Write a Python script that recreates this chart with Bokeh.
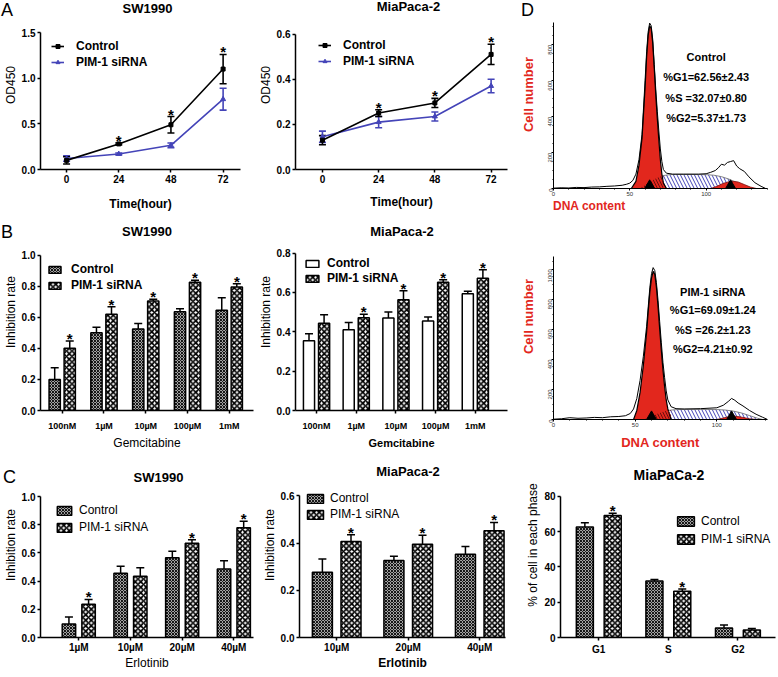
import math
from bokeh.plotting import figure
from bokeh.layouts import row, column
from bokeh.models import (ColumnDataSource, Whisker, TeeHead, Label, LabelSet, FixedTicker,
                          Range1d, Legend, LegendItem, PrintfTickFormatter, Div)
from bokeh.embed import file_html
from bokeh.resources import INLINE
from bokeh.core.properties import value

FONT = "Liberation Sans"
BLUE = "#4444b8"
RED = "#e2271d"

# ---------------- data ----------------
time_h = [0, 24, 48, 72]
a1_ctrl = [0.10, 0.28, 0.49, 1.10]
a1_ctrl_err = [0.04, 0.01, 0.09, 0.16]
a1_sirna = [0.12, 0.17, 0.265, 0.77]
a1_sirna_err = [0.03, 0.01, 0.025, 0.12]
a1_star = [0, 1, 1, 1]

a2_ctrl = [0.13, 0.25, 0.295, 0.51]
a2_ctrl_err = [0.02, 0.015, 0.02, 0.045]
a2_sirna = [0.145, 0.21, 0.235, 0.37]
a2_sirna_err = [0.025, 0.025, 0.02, 0.03]
a2_star = [0, 1, 1, 1]

gem_doses = ["100nM", "1µM", "10µM", "100µM", "1mM"]
b1_ctrl = [0.20, 0.50, 0.525, 0.635, 0.645]
b1_ctrl_err = [0.075, 0.035, 0.035, 0.02, 0.08]
b1_sirna = [0.40, 0.62, 0.705, 0.825, 0.795]
b1_sirna_err = [0.047, 0.048, 0.01, 0.013, 0.02]
b1_star = [1, 1, 1, 1, 1]

b2_ctrl = [0.355, 0.41, 0.47, 0.455, 0.593]
b2_ctrl_err = [0.035, 0.037, 0.03, 0.02, 0.013]
b2_sirna = [0.444, 0.472, 0.563, 0.652, 0.672]
b2_sirna_err = [0.043, 0.017, 0.045, 0.013, 0.043]
b2_star = [0, 1, 1, 1, 1]

erl_doses_sw = ["1µM", "10µM", "20µM", "40µM"]
c1_ctrl = [0.095, 0.455, 0.565, 0.485]
c1_ctrl_err = [0.05, 0.05, 0.047, 0.06]
c1_sirna = [0.235, 0.435, 0.668, 0.779]
c1_sirna_err = [0.035, 0.06, 0.026, 0.045]
c1_star = [1, 0, 1, 1]

erl_doses_mia = ["10µM", "20µM", "40µM"]
c2_ctrl = [0.276, 0.326, 0.352]
c2_ctrl_err = [0.056, 0.018, 0.033]
c2_sirna = [0.406, 0.395, 0.452]
c2_sirna_err = [0.029, 0.038, 0.035]
c2_star = [1, 1, 1]

phases = ["G1", "S", "G2"]
c3_ctrl = [62.56, 32.07, 5.37]
c3_ctrl_err = [2.43, 0.80, 1.73]
c3_sirna = [69.09, 26.2, 4.21]
c3_sirna_err = [1.24, 1.23, 0.92]
c3_star = [1, 1, 0]

# flow cytometry histograms
d1_x = [0, 5, 10, 15, 20, 25, 30, 35, 40, 45, 48, 50, 52, 54, 56, 58, 60, 61, 62, 63,
        64, 65, 66, 67, 68, 69, 70, 71, 72, 74, 78, 85, 95, 100, 103, 106, 108, 110,
        112, 114, 116, 118, 120, 122, 125, 128, 132, 136, 139]
d1_y = [2, 4, 3, 6, 5, 8, 9, 12, 14, 18, 24, 30, 45, 80, 160, 300, 600, 760, 870, 920,
        905, 830, 690, 550, 430, 320, 220, 150, 105, 85, 80, 80, 80, 82, 90, 100, 115, 135,
        130, 145, 150, 155, 125, 110, 95, 65, 32, 12, 0]
d1_g1_x = [51, 54, 56, 58, 60, 61, 62, 63, 64, 65, 66, 67, 68, 69, 70, 71, 72, 74]
d1_g1_y = [0, 40, 130, 280, 560, 730, 850, 905, 890, 810, 670, 520, 390, 270, 160, 80, 30, 0]
d1_s_x = [56, 60, 64, 68, 72, 76, 80, 90, 100, 105, 110, 115, 120, 125, 129]
d1_s_y = [0, 20, 42, 60, 72, 77, 78, 78, 77, 74, 66, 52, 32, 12, 0]
d1_g2_x = [103, 107, 111, 115, 118, 121, 125, 129, 133]
d1_g2_y = [0, 12, 28, 38, 40, 36, 22, 8, 0]
d1_peaks = [63, 116]
d1_text = ["Control", "%G1=62.56±2.43", "%S =32.07±0.80", "%G2=5.37±1.73"]

d2_x = [0, 5, 10, 15, 20, 25, 30, 35, 40, 44, 47, 49, 51, 53, 55, 57, 58, 59, 60, 61,
        62, 63, 64, 65, 66, 67, 68, 69, 70, 72, 75, 80, 90, 100, 104, 107, 109, 111,
        113, 116, 120, 124, 128, 131]
d2_y = [2, 5, 12, 8, 10, 14, 12, 18, 20, 25, 40, 70, 140, 260, 420, 620, 750, 880, 970, 1010,
        990, 910, 790, 650, 510, 380, 280, 190, 130, 85, 72, 70, 72, 78, 95, 120, 140, 128,
        110, 90, 60, 35, 15, 0]
d2_g1_x = [49, 51, 53, 55, 57, 58, 59, 60, 61, 62, 63, 64, 65, 66, 67, 68, 69, 70, 72]
d2_g1_y = [0, 60, 180, 360, 580, 720, 850, 940, 985, 965, 880, 750, 600, 460, 330, 220, 130, 70, 0]
d2_s_x = [55, 60, 64, 68, 72, 76, 80, 90, 100, 105, 110, 115, 120, 125, 128]
d2_s_y = [0, 20, 40, 55, 63, 66, 67, 67, 66, 63, 56, 44, 26, 8, 0]
d2_g2_x = [100, 104, 107, 110, 113, 116, 120, 124]
d2_g2_y = [0, 10, 18, 22, 20, 14, 5, 0]
d2_peaks = [60, 109]
d2_text = ["PIM-1 siRNA", "%G1=69.09±1.24", "%S =26.2±1.23", "%G2=4.21±0.92"]


# ---------------- helpers ----------------
class Frame:
    """Figure geometry; the frame spans from the figure top down to h-b."""
    def __init__(self, w, h, l, r, b, top_px, top_val):
        self.w, self.h, self.l, self.r, self.b = w, h, l, r, b
        self.fh = h - b
        self.top_val = top_val
        self.scale = (self.fh - top_px) / float(top_val)
        self.yend = self.fh / self.scale

    def sx(self, fx):
        return fx - self.l

    def sy(self, fy):
        return self.fh - fy


def new_fig(fr, xr):
    p = figure(width=fr.w, height=fr.h, x_range=Range1d(*xr), y_range=Range1d(0, fr.yend),
               output_backend="svg", toolbar_location=None,
               min_border_left=fr.l, min_border_right=fr.r,
               min_border_top=0, min_border_bottom=fr.b)
    p.outline_line_color = None
    p.xgrid.visible = False
    p.ygrid.visible = False
    p.background_fill_color = "white"
    p.border_fill_color = "white"
    return p


def label(p, fr, fx, fy, text, size, style="normal", color="black",
          align="center", baseline="middle"):
    p.add_layout(Label(x=fr.sx(fx), y=fr.sy(fy), x_units="screen", y_units="screen",
                       text=text, text_font=FONT, text_font_size=f"{size}px",
                       text_font_style=style, text_color=color, text_align=align,
                       text_baseline=baseline))


def style_axes(p, fr, xticks, yticks, yfmt, xover=None, xsize=10, ysize=10,
               ylabel=None, xlabel=None, xlabel_size=12, xlabel_style="normal",
               xlabel_standoff=2, x_standoff=2):
    for ax in (p.xaxis[0], p.yaxis[0]):
        ax.axis_line_width = 1.5
        ax.axis_line_color = "black"
        ax.major_tick_line_width = 1.5
        ax.major_tick_line_color = "black"
        ax.major_tick_out = 3
        ax.major_tick_in = 0
        ax.minor_tick_line_color = None
        ax.major_label_text_font = FONT
        ax.major_label_text_font_style = "bold"
        ax.major_label_text_color = "black"
        ax.major_label_standoff = 2
        ax.axis_label_text_font = FONT
        ax.axis_label_text_color = "black"
        ax.axis_label_standoff = 1
    p.xaxis.major_label_standoff = x_standoff
    p.xaxis.ticker = FixedTicker(ticks=xticks)
    p.yaxis.ticker = FixedTicker(ticks=yticks)
    p.yaxis.bounds = (0, fr.top_val)
    p.yaxis.formatter = PrintfTickFormatter(format=yfmt)
    if xover:
        p.xaxis.major_label_overrides = xover
    p.xaxis.major_label_text_font_size = f"{xsize}px"
    p.yaxis.major_label_text_font_size = f"{ysize}px"
    if ylabel:
        p.yaxis.axis_label = ylabel
        p.yaxis.axis_label_text_font_size = "12px"
        p.yaxis.axis_label_text_font_style = "normal"
    if xlabel:
        p.xaxis.axis_label = xlabel
        p.xaxis.axis_label_text_font_size = f"{xlabel_size}px"
        p.xaxis.axis_label_text_font_style = xlabel_style
        p.xaxis.axis_label_standoff = xlabel_standoff


def add_legend(p, fr, items, glyph_fx, row1_fy, h, gw, gh, standoff, size, style, pad=2):
    n = len(items)
    lh = 2 * pad + n * h
    top_fy = row1_fy - pad - h / 2.0
    vy = fr.fh - top_fy - lh
    vx = glyph_fx - fr.l - pad
    leg = Legend(items=[LegendItem(label=lab, renderers=rs) for lab, rs in items],
                 location=(vx, vy))
    leg.padding = pad
    leg.margin = 0
    leg.spacing = 0
    leg.label_height = int(h)
    leg.glyph_height = int(gh)
    leg.glyph_width = int(gw)
    leg.label_standoff = int(standoff)
    leg.label_text_font = FONT
    leg.label_text_font_size = f"{size}px"
    leg.label_text_font_style = style
    leg.label_text_color = "black"
    leg.background_fill_alpha = 0
    leg.border_line_color = None
    p.add_layout(leg)


def stars(p, xs, ys, flags, size=15):
    sx = [x for x, f in zip(xs, flags) if f]
    sy = [y for y, f in zip(ys, flags) if f]
    src = ColumnDataSource(dict(x=sx, y=sy, t=["*"] * len(sx)))
    p.add_layout(LabelSet(x="x", y="y", text="t", source=src, text_font=value(FONT),
                          text_font_size=value(f"{size}px"), text_font_style="bold",
                          text_align="center", text_baseline="alphabetic", y_offset=-3,
                          text_color=value("black")))


def line_chart(fr, xr, yticks, ctrl, cerr, sir, serr, star, leg_pos, xl_standoff):
    p = new_fig(fr, xr)
    style_axes(p, fr, time_h, yticks, "%.1f", ylabel="OD450",
               xlabel="Time(hour)", xlabel_size=12, xlabel_style="bold",
               xlabel_standoff=xl_standoff)
    rends = {}
    for key, vals, errs, col, mk, ms in (("s", sir, serr, BLUE, "triangle", 5),
                                         ("c", ctrl, cerr, "black", "square", 4)):
        src = ColumnDataSource(dict(x=time_h, y=vals,
                                    lo=[v - e for v, e in zip(vals, errs)],
                                    hi=[v + e for v, e in zip(vals, errs)]))
        lr = p.line("x", "y", source=src, line_color=col, line_width=1.6)
        mr = p.scatter("x", "y", source=src, marker=mk, size=ms, color=col)
        p.add_layout(Whisker(source=src, base="x", lower="lo", upper="hi",
                             line_color=col, line_width=1.6,
                             upper_head=TeeHead(size=7, line_color=col, line_width=1.6),
                             lower_head=TeeHead(size=7, line_color=col, line_width=1.6)))
        rends[key] = [lr, mr]
    top = [max(c + ce, s + se) for c, ce, s, se in zip(ctrl, cerr, sir, serr)]
    stars(p, time_h, top, star)
    gx, gy, h = leg_pos
    add_legend(p, fr, [("Control", rends["c"]), ("PIM-1 siRNA", rends["s"])],
               gx, gy, h, 13, 10, 12, 12, "bold")
    return p


CTRL_HATCH = dict(fill_color="#e6e6e6", hatch_pattern="diagonal_cross", hatch_color="#111111",
                  hatch_scale=3.0, hatch_weight=1.15)
SIR_HATCH = dict(fill_color="white", hatch_pattern="diagonal_cross", hatch_color="black",
                 hatch_scale=5.5, hatch_weight=1.7)
CTRL_WHITE = dict(fill_color="white")


def bar_chart(fr, xr, yticks, yfmt, cats, ctrl, cerr, sir, serr, star, off, bw,
              ctrl_style, xsize, ylabel, xlabel, xlabel_size, xlabel_style, xlabel_standoff,
              x_standoff, leg_geom, leg_font):
    p = new_fig(fr, xr)
    idx = list(range(len(cats)))
    style_axes(p, fr, idx, yticks, yfmt, xover={i: c for i, c in zip(idx, cats)},
               xsize=xsize, ysize=10, ylabel=ylabel, xlabel=xlabel,
               xlabel_size=xlabel_size, xlabel_style=xlabel_style,
               xlabel_standoff=xlabel_standoff, x_standoff=x_standoff)
    rs = []
    for vals, errs, sign, sty in ((ctrl, cerr, -1, ctrl_style), (sir, serr, 1, SIR_HATCH)):
        src = ColumnDataSource(dict(x=[i + sign * off for i in idx], top=vals,
                                    hi=[v + e for v, e in zip(vals, errs)]))
        r = p.vbar(x="x", top="top", width=bw, source=src, line_color="black",
                   line_width=1.5, **sty)
        p.add_layout(Whisker(source=src, base="x", lower="top", upper="hi",
                             line_color="black", line_width=1.5,
                             upper_head=TeeHead(size=8, line_color="black", line_width=1.5),
                             lower_head=None))
        rs.append(r)
    stars(p, [i + off for i in idx], [v + e for v, e in zip(sir, serr)], star)
    gx, gy, h, gw, gh, so = leg_geom
    fsize, fstyle = leg_font
    add_legend(p, fr, [("Control", [rs[0]]), ("PIM-1 siRNA", [rs[1]])],
               gx, gy, h, gw, gh, so, fsize, fstyle)
    return p


def flow_chart(fr, xmax, yticks, yminor, ox, oy, g1x, g1y, sx_, sy_, g2x, g2y,
               peaks, texts, tx, tys, dna_size, dna_standoff, dna_axis_label=True):
    p = new_fig(fr, (0, xmax))
    p.varea(x=sx_, y1=[0] * len(sx_), y2=sy_, fill_color="white",
            hatch_pattern="left_diagonal_line", hatch_color=BLUE, hatch_scale=7,
            hatch_weight=1.0)
    p.line(sx_, sy_, line_color="#666666", line_width=0.8)
    p.varea(x=g1x, y1=[0] * len(g1x), y2=g1y, fill_color=RED)
    p.line(g1x, g1y, line_color="black", line_width=1.2)
    lx = [x for x in sx_ if x <= g1x[-1]]
    ly = [y for x, y in zip(sx_, sy_) if x <= g1x[-1]]
    p.varea(x=lx, y1=[0] * len(lx), y2=ly, fill_alpha=0,
            hatch_pattern="left_diagonal_line", hatch_color="#6a0d0d", hatch_scale=6,
            hatch_weight=1.0)
    p.varea(x=g2x, y1=[0] * len(g2x), y2=g2y, fill_color=RED)
    p.line(g2x, g2y, line_color="#7a1010", line_width=0.8)
    p.line(ox, oy, line_color="black", line_width=1.0)
    tri_y = 2.9 / fr.scale
    p.scatter(x=peaks, y=[tri_y] * len(peaks), marker="triangle", size=10, color="black")
    for t, yy in zip(texts, tys):
        p.add_layout(Label(x=tx, y=yy, text=t, text_font=FONT, text_font_size="11px",
                           text_font_style="bold", text_align="center",
                           text_baseline="middle", text_color="black"))
    for ax in (p.xaxis[0], p.yaxis[0]):
        ax.axis_line_width = 1
        ax.axis_line_color = "black"
        ax.major_tick_line_color = "black"
        ax.major_tick_out = 2
        ax.major_tick_in = 0
        ax.minor_tick_out = 1
        ax.minor_tick_in = 0
        ax.minor_tick_line_color = "black"
        ax.major_label_text_font = FONT
        ax.major_label_text_font_size = "6px"
        ax.major_label_text_color = "#333333"
        ax.major_label_standoff = 1
    p.yaxis.ticker = FixedTicker(ticks=yticks, minor_ticks=yminor)
    p.yaxis.bounds = (0, fr.top_val)
    p.yaxis.major_label_orientation = math.pi / 2
    p.yaxis.axis_label = "Cell number"
    p.yaxis.axis_label_text_font = FONT
    p.yaxis.axis_label_text_font_size = "13px"
    p.yaxis.axis_label_text_font_style = "bold"
    p.yaxis.axis_label_text_color = RED
    p.yaxis.axis_label_standoff = 8
    p.xaxis.ticker = FixedTicker(ticks=[0, 50, 100], minor_ticks=list(range(0, 141, 10)))
    p.xaxis.major_label_standoff = 1
    if dna_axis_label:
        p.xaxis.axis_label = "DNA content"
        p.xaxis.axis_label_text_font = FONT
        p.xaxis.axis_label_text_font_size = f"{dna_size}px"
        p.xaxis.axis_label_text_font_style = "bold"
        p.xaxis.axis_label_text_color = RED
        p.xaxis.axis_label_standoff = dna_standoff
    return p


# -------- frames (w, h, left, right, bottom, top-tick pixel, top-tick value) --------
FA1 = Frame(255, 213, 35, 15, 39, 33, 1.5)
FA2 = Frame(255, 213, 37, 3, 37, 35, 0.6)
FB1 = Frame(255, 239, 36, 2, 40, 42, 1.0)
FB2 = Frame(255, 239, 36, 3, 40, 40, 0.8)
FD1 = Frame(267, 213, 42, 10, 25, 21.7, 925)
FD2 = Frame(267, 239, 43, 9, 28, 43.7, 1086)
FC1 = Frame(255, 224, 35, 2, 39, 44, 1.0)
FC2 = Frame(255, 224, 44, 5, 36, 44, 0.6)
FC3 = Frame(267, 224, 50, 2, 38, 44, 80)

# ---------------- panel A ----------------
pa1 = line_chart(FA1, (-12, 80), [0, 0.5, 1.0, 1.5],
                 a1_ctrl, a1_ctrl_err, a1_sirna, a1_sirna_err, a1_star, (48, 49, 16), 11)
label(pa1, FA1, 142, 13, "SW1990", 13, "bold")

pa2 = line_chart(FA2, (-11.5, 79), [0, 0.2, 0.4, 0.6],
                 a2_ctrl, a2_ctrl_err, a2_sirna, a2_sirna_err, a2_star, (62, 50, 16), 9)
label(pa2, FA2, 150, 13, "MiaPaca-2", 13, "bold")

# ---------------- panel B ----------------
pb1 = bar_chart(FB1, (-0.52, 4.58), [0, 0.2, 0.4, 0.6, 0.8, 1.0], "%.1f",
                gem_doses, b1_ctrl, b1_ctrl_err, b1_sirna, b1_sirna_err, b1_star,
                0.18, 0.27, CTRL_HATCH, 9, "Inhibition rate", "Gemcitabine", 12, "normal",
                2, 7, (45, 56, 16, 15, 9, 9), (12, "bold"))
label(pb1, FB1, 142.5, 20, "SW1990", 13, "bold")

pb2 = bar_chart(FB2, (-0.53, 4.81), [0, 0.2, 0.4, 0.6, 0.8], "%.1f",
                gem_doses, b2_ctrl, b2_ctrl_err, b2_sirna, b2_sirna_err, b2_star,
                0.19, 0.28, CTRL_WHITE, 9, "Inhibition rate", "Gemcitabine", 11, "bold",
                3, 7, (47, 50, 15, 16, 9, 7), (12, "bold"))
label(pb2, FB2, 142.5, 20, "MiaPaca-2", 13, "bold")

# ---------------- panel D ----------------
pd1 = flow_chart(FD1, 140.2, [0, 200, 400, 600, 800], list(range(0, 926, 50)),
                 d1_x, d1_y, d1_g1_x, d1_g1_y, d1_s_x, d1_s_y, d1_g2_x, d1_g2_y,
                 d1_peaks, d1_text, 100, [731, 620, 503, 392], 12, 0, dna_axis_label=False)

pd2 = flow_chart(FD2, 131, [0, 200, 400, 600, 800, 1000], list(range(0, 1087, 50)),
                 d2_x, d2_y, d2_g1_x, d2_g1_y, d2_s_x, d2_s_y, d2_g2_x, d2_g2_y,
                 d2_peaks, d2_text, 97.5, [850, 727, 597, 468], 13, 5)

# ---------------- panel C ----------------
pc1 = bar_chart(FC1, (-0.74, 3.38), [0, 0.2, 0.4, 0.6, 0.8, 1.0], "%.1f",
                erl_doses_sw, c1_ctrl, c1_ctrl_err, c1_sirna, c1_sirna_err, c1_star,
                0.19, 0.26, CTRL_HATCH, 10, "Inhibition rate", "Erlotinib", 12, "normal",
                0, 1, (52, 56, 17, 18, 11, 6), (12, "normal"))
label(pc1, FC1, 153, 25, "SW1990", 13, "bold")

pc2 = bar_chart(FC2, (-0.52, 2.36), [0, 0.2, 0.4, 0.6], "%.1f",
                erl_doses_mia, c2_ctrl, c2_ctrl_err, c2_sirna, c2_sirna_err, c2_star,
                0.2, 0.28, CTRL_HATCH, 10, "Inhibition rate", "Erlotinib", 12, "bold",
                0, 1, (52, 47, 16, 20, 11, 5), (12, "normal"))
label(pc2, FC2, 152.5, 22, "MiaPaca-2", 13, "bold")

pc3 = bar_chart(FC3, (-0.55, 2.54), [0, 20, 40, 60, 80], "%d",
                phases, c3_ctrl, c3_ctrl_err, c3_sirna, c3_sirna_err, c3_star,
                0.2, 0.245, CTRL_HATCH, 10, "% of cell in each phase", None, 12, "normal",
                2, 3, (167, 68, 18, 21, 12, 5), (12, "normal"))
label(pc3, FC3, 158.5, 23, "MiaPaCa-2", 14, "bold")


# ---------------- free-floating texts (panel letters, D1 axis title) ----------------
def floating(text, left, top, size=18, weight="normal", color="black", width=18):
    return Div(text=text, width=width, height=int(size * 1.3), margin=0,
               styles={"position": "absolute", "left": f"{left}px", "top": f"{top}px",
                       "font-family": FONT, "font-size": f"{size}px",
                       "font-weight": weight, "color": color, "white-space": "nowrap",
                       "z-index": "10", "overflow": "visible", "line-height": "normal"})


layout = column(
    row(column(row(pa1, pa2), row(pb1, pb2)), column(pd1, pd2)),
    row(pc1, pc2, pc3),
    floating("A", 1, 0), floating("B", 1, 222), floating("C", 3, 467), floating("D", 521, 0),
    floating("DNA content", 553, 199, size=12, weight="bold", color=RED, width=80),
)

open("out.html", "w").write(file_html(layout, INLINE, "PIM-1 figure"))
